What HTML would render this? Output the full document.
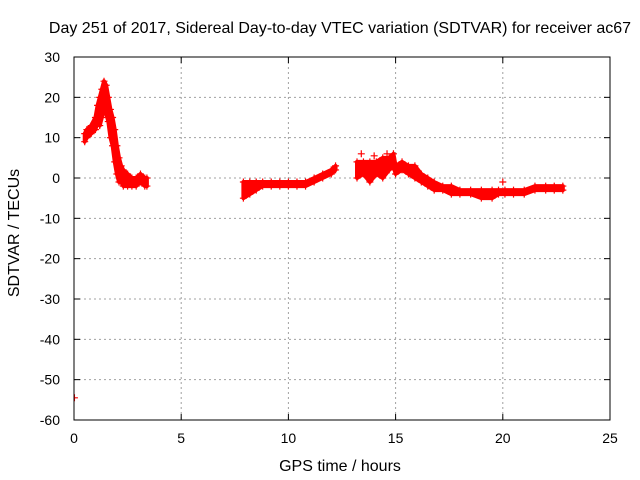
<!DOCTYPE html>
<html><head><meta charset="utf-8"><style>
body{margin:0;background:#fff}
svg{display:block;font-family:"Liberation Sans",sans-serif}
</style></head><body>
<svg id="c" width="640" height="480">
<defs><clipPath id="pc"><rect x="74" y="57" width="536" height="363"/></clipPath></defs>
<text x="340" y="33" text-anchor="middle" font-size="16">Day 251 of 2017, Sidereal Day-to-day VTEC variation (SDTVAR) for receiver ac67</text>
<text x="340" y="471" text-anchor="middle" font-size="16">GPS time / hours</text>
<text x="19" y="233" text-anchor="middle" font-size="16" transform="rotate(-90 19 233)">SDTVAR / TECUs</text>
<g id="grid"></g><g id="data" clip-path="url(#pc)"></g>
<rect x="74" y="57" width="536" height="363" fill="none" stroke="#000" stroke-width="1"/>
</svg>
<script>
const xTicks=[0,5,10,15,20,25];
const yTicks=[30,20,10,0,-10,-20,-30,-40,-50,-60];
const seg1T=[0.5,0.6,0.8,1.0,1.1,1.2,1.3,1.4,1.5,1.6,1.7,1.8,1.9,2.0,2.1,2.2,2.3,2.5,2.7,2.9,3.1,3.3,3.4];
const seg1Lo=[9,10,11,12,14,13,15,17,16,14,10,8,4,1,-1,-1,-2,-2,-2,-2,-1,-2,-2];
const seg1Hi=[11,12,13,15,18,20,22,24,23,20,17,15,12,8,5,3,2,1,0,0,1,0,0];
const seg2T=[7.9,8.2,8.5,8.8,9.2,9.6,10,10.4,10.8,11.2,11.6,12.0,12.2];
const seg2Lo=[-5,-4,-3,-2,-2,-2,-2,-2,-2,-1,0,1,2];
const seg2Hi=[-1,-1,-1,-1,-1,-1,-1,-1,-1,0,1,2,3];
const seg3T=[13.2,13.5,13.8,14.1,14.4,14.7,14.9,15.0,15.3,15.6,15.9,16.2,16.5,16.8,17.2,17.6,18,18.5,19,19.5,19.8,20.1,20.5,21,21.5,22,22.4,22.8];
const seg3Lo=[0,1,-1,1,0,2,3,1,2,1,0,-1,-2,-3,-3,-4,-4,-4,-5,-5,-4,-4,-4,-4,-3,-3,-3,-3];
const seg3Hi=[4,4,4,4,5,5,6,3,4,3,3,1,0,-1,-2,-2,-3,-3,-3,-3,-3,-3,-3,-3,-2,-2,-2,-2];
const extraT=[0.02,20.0,13.4,14.0,14.6];
const extraV=[-54.5,-1,6,5.5,6];
const NS='http://www.w3.org/2000/svg';
const X=t=>74+t*536/25, Y=v=>178-v*4.033;
const grid=document.getElementById('grid'), data=document.getElementById('data');
function mk(tag,attrs,parent){const e=document.createElementNS(NS,tag);for(const k in attrs)e.setAttribute(k,attrs[k]);parent.appendChild(e);return e;}
xTicks.forEach(t=>{const x=X(t);
 if(t>0&&t<25){const g=mk('line',{x1:x,x2:x,y1:57,y2:420,stroke:'#a0a0a0','stroke-dasharray':'2,3'},grid);
 
 }
 mk('line',{x1:x,x2:x,y1:420,y2:414,stroke:'#000'},grid);mk('line',{x1:x,x2:x,y1:57,y2:63,stroke:'#000'},grid);
 const l=mk('text',{x:x,y:443,'text-anchor':'middle','font-size':'14'},grid);l.textContent=t;
 
 });
yTicks.forEach(v=>{const y=Y(v);
 if(v<30&&v>-60){const g=mk('line',{x1:74,x2:610,y1:y,y2:y,stroke:'#a0a0a0','stroke-dasharray':'2,3'},grid);
 
 }
 mk('line',{x1:74,x2:80,y1:y,y2:y,stroke:'#000'},grid);mk('line',{x1:610,x2:604,y1:y,y2:y,stroke:'#000'},grid);
 const l=mk('text',{x:60,y:y+5,'text-anchor':'end','font-size':'14'},grid);l.textContent=v;
 
 });
function plus(t,v){const x=X(t),y=Y(v);
 const p=mk('path',{d:`M${x-3.5} ${y}H${x+3.5}M${x} ${y-3.5}V${y+3.5}`,stroke:'#f00','stroke-width':'1.2',fill:'none'},data);
 
 }
function band(T,Lo,Hi){
 const pts=T.map((t,i)=>X(t)+','+Y(Hi[i])).concat(T.map((t,i)=>X(t)+','+Y(Lo[i])).reverse());
 const b=mk('polygon',{points:pts.join(' '),fill:'#f00',stroke:'#f00','stroke-width':'4','stroke-linejoin':'round'},data);
 
 
 T.forEach((t,i)=>{plus(t,Lo[i]);plus(t,Hi[i]);});}
band(seg1T,seg1Lo,seg1Hi);band(seg2T,seg2Lo,seg2Hi);band(seg3T,seg3Lo,seg3Hi);
extraT.forEach((t,i)=>plus(t,extraV[i]));
</script>
</body></html>
